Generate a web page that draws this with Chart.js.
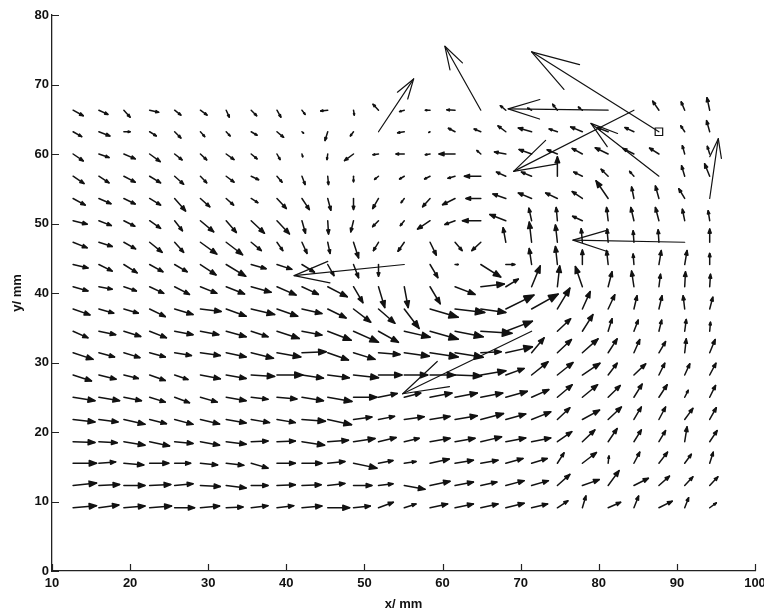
<!DOCTYPE html>
<html>
<head>
<meta charset="utf-8">
<script src="https://cdn.jsdelivr.net/npm/chart.js@4.4.1/dist/chart.umd.min.js"></script>
<style>
  html, body { margin: 0; padding: 0; background: #fff; }
  #wrap { width: 764px; height: 612px; }
</style>
</head>
<body>
<div id="wrap"><canvas id="quiver" width="764" height="612"></canvas></div>
<script>
// measurement grid (mm)
const gridX = [12.7, 16.0, 19.2, 22.5, 25.7, 29.0, 32.3, 35.5, 38.8, 42.0, 45.3, 48.6, 51.8,
               55.1, 58.4, 61.6, 64.9, 68.1, 71.4, 74.7, 77.9, 81.2, 84.5, 87.7, 91.0, 94.2];
const gridY = [9.1, 12.3, 15.5, 18.6, 21.8, 25.0, 28.2, 31.4, 34.5, 37.7,
               40.9, 44.1, 47.3, 50.4, 53.6, 56.8, 60.0, 63.2, 66.3];

// vector components in mm, one row per gridY (bottom row first)
const U = [
  [3.0,2.55,2.7,2.8,2.55,2.45,2.15,2.15,2.15,2.55,2.8,2.15,1.9,1.5,2.25,2.35,2.2,2.35,2.05,1.35,0.45,1.6,0.6,1.7,0.5,0.85],
  [3.0,2.65,2.7,2.7,2.35,2.55,2.55,2.15,2.35,2.45,2.2,2.35,1.85,2.65,2.55,2.35,2.05,2.35,2.15,1.6,2.15,1.4,1.85,1.35,1.05,1.05],
  [3.0,2.15,2.55,2.45,2.05,2.2,2.25,2.15,2.35,2.55,2.2,3.0,1.85,1.5,2.45,2.35,2.2,2.2,2.0,0.85,1.8,0.1,0.75,1.1,0.85,0.45],
  [2.8,2.35,2.7,2.55,2.35,2.45,2.55,2.15,2.35,2.9,2.65,2.75,2.25,1.9,2.55,2.55,2.65,2.55,2.45,1.85,1.6,1.15,0.95,0.85,0.3,0.95],
  [2.8,2.45,2.7,2.15,2.35,2.45,2.55,2.35,2.35,3.0,3.05,2.35,2.05,2.55,2.55,2.85,2.9,2.55,2.45,1.6,2.2,1.7,0.95,0.85,1.05,0.85],
  [2.8,2.65,2.25,2.0,1.9,2.15,2.55,2.15,2.55,2.75,3.1,3.0,2.4,2.1,2.8,2.85,2.8,2.75,2.2,1.9,1.95,1.55,1.05,1.05,0.45,0.75],
  [2.35,2.2,1.85,2.0,1.7,2.55,2.55,3.0,3.3,2.75,2.75,3.2,3.0,3.0,3.2,3.4,3.2,2.35,2.1,2.0,2.25,1.15,1.5,0.75,0.65,0.8],
  [2.55,2.0,2.05,2.0,2.15,2.55,2.55,2.85,3.05,3.1,2.65,2.75,2.75,3.2,3.6,3.6,2.6,3.4,1.6,1.8,2.0,1.15,0.75,0.85,0.2,0.7],
  [1.9,2.15,2.15,2.15,2.35,2.35,2.55,2.15,2.85,2.55,3.0,3.2,2.55,3.3,3.6,3.6,4.0,3.4,-16.5,1.7,1.35,0.5,0.55,0.35,0.2,0.1],
  [2.15,1.9,1.85,2.0,2.35,2.65,2.55,3.0,2.65,2.55,2.35,2.2,2.1,1.9,3.6,3.8,3.2,3.6,3.4,1.6,1.0,0.85,0.4,0.4,-0.2,0.4],
  [1.9,1.7,1.6,1.8,1.9,2.1,2.35,2.55,2.45,2.1,2.5,1.2,0.8,0.5,1.3,2.55,3.0,1.6,1.1,0.3,-0.9,0.5,-0.3,0.2,0.1,0.1],
  [1.9,1.7,1.7,1.7,1.6,2.0,2.5,1.9,1.9,1.6,0.8,0.65,0,-14.1,1.0,0.4,2.55,1.15,-0.3,-0.25,0,-0.2,-0.1,0.3,0.3,0],
  [1.8,1.7,1.5,1.6,1.15,2.1,2.1,1.3,0.75,0.65,0.3,0.65,-0.65,-0.8,0.8,0.9,-1.15,-0.35,-0.3,-0.25,-0.15,-0.15,-0.1,-0.1,-14.3,0],
  [1.8,1.6,1.4,1.4,1.0,1.7,1.3,1.7,1.6,0.45,0.1,-0.35,-0.75,-0.5,-1.6,-1.3,-2.35,-2.05,-0.35,-0.15,-1.25,-0.2,-0.4,-0.45,-0.3,-0.2],
  [1.55,1.55,1.45,1.4,1.4,1.2,0.95,0.85,1.2,0.95,0.4,0,-0.75,-0.4,-0.95,-1.6,-1.9,-1.65,-1.7,-1.5,-1.3,-1.55,-0.3,-0.45,-0.75,1.1],
  [1.4,1.3,1.45,1.4,1.15,0.8,1.0,0.95,0.65,0.4,0.1,0,-0.5,-0.6,-0.7,-0.9,-2.1,-1.2,-1.3,0,-1.1,-0.9,-0.55,-8.7,-0.4,-0.65],
  [1.3,1.3,1.45,1.35,0.95,0.8,1.0,0.75,0.4,0.1,-0.1,-1.15,-0.7,-1.05,-0.6,-2.05,-0.5,-1.45,-1.6,-1.3,-1.3,-1.65,-1.4,-1.2,-0.3,-0.3],
  [1.1,1.4,0.8,0.85,0.8,0.55,0.5,0.75,0.85,0.2,-0.35,-0.4,4.5,-0.85,-0.15,-0.85,-0.85,-1.0,-1.7,-1.05,-1.5,-1.4,-1.15,-16.3,-0.5,-0.4],
  [1.3,1.15,0.8,1.15,0.8,0.85,0.4,0.7,0.5,0.4,-0.9,0.1,-0.7,-0.6,-0.6,-1.05,-4.6,-0.7,-0.5,-0.6,-0.5,-12.8,-15.4,-0.8,-0.45,-0.35]
];
const V = [
  [0.3,0.4,0.25,0.25,0,0.25,0.1,0.3,0.3,0.25,0,0.25,0.8,0.55,0.55,0.55,0.55,0.65,0.55,1.0,1.7,0.8,1.7,0.95,1.45,0.7],
  [0.35,0.15,0,0.15,0.25,-0.15,-0.35,0,0.1,0.1,0.3,0,0.25,-0.55,0.6,0.5,0.5,0.7,0.7,1.6,0.85,2.15,1.05,1.35,1.25,1.25],
  [0,0.2,-0.25,0,0,-0.25,-0.3,-0.7,0,0,0.25,-0.7,0.4,0.25,0.6,0.45,0.45,0.7,0.7,1.5,1.55,1.05,1.6,1.6,1.3,1.6],
  [-0.1,-0.15,-0.5,-0.6,-0.25,-0.5,-0.35,0.1,0.1,-0.5,0.2,0.45,0.6,0.5,0.5,0.5,0.7,0.55,0.55,1.45,1.7,1.9,1.7,1.6,2.15,1.6],
  [-0.35,-0.35,-0.7,-0.6,-0.7,-0.65,-0.5,-0.45,-0.45,-0.25,-0.75,0.35,0.45,0.4,0.45,0.55,0.85,0.8,1.1,1.7,1.35,1.8,1.8,1.8,1.6,1.7],
  [-0.5,-0.5,-0.5,-0.7,-0.8,-0.7,-0.5,-0.3,-0.25,-0.5,-0.6,0,0.55,0.6,0.6,0.6,0.6,0.85,1.1,1.8,1.8,1.7,1.9,1.8,1.0,1.7],
  [-0.85,-0.6,-0.5,-0.8,-0.65,-0.55,-0.5,-0.2,0,-0.45,-0.4,-0.4,0,0,0,-0.15,0.6,0.95,1.9,1.8,1.7,1.7,1.6,1.7,1.6,1.7],
  [-0.95,-0.6,-0.7,-0.6,-0.4,-0.4,-0.6,-0.8,-0.6,0.15,-1.05,-0.95,-0.25,-0.5,-0.6,-0.65,0.15,0.85,2.15,1.9,2.0,2.0,1.9,1.6,2.0,1.9],
  [-0.95,-0.5,-0.75,-0.95,-0.5,-0.5,-0.8,-0.8,-1.05,-0.55,-1.3,-1.6,-1.6,-0.85,-1.15,-0.8,-0.3,1.45,-9.0,1.8,2.4,1.8,1.6,1.6,1.7,1.3],
  [-0.85,-0.6,-0.6,-1.1,-0.8,-0.35,-1.05,-0.8,-1.05,-0.65,-1.3,-1.9,-2.05,-2.8,-1.2,-0.5,-0.5,2.0,2.15,3.0,2.5,2.05,1.9,1.9,1.9,1.7],
  [-0.6,-0.35,-0.6,-0.95,-1.1,-0.95,-1.05,-0.8,-1.2,-1.1,-1.45,-2.3,-3.0,-3.0,-2.45,-1.1,0.4,1.1,3.0,3.0,2.9,2.15,2.25,1.8,2.15,1.8],
  [-0.5,-0.95,-1.2,-1.05,-1.05,-1.5,-1.7,-0.6,-0.7,-1.1,-1.6,-1.9,-1.7,-1.6,-1.9,0,-1.8,0,2.3,2.6,2.1,2.0,1.5,2.0,2.0,1.6],
  [-0.8,-0.6,-0.95,-1.45,-1.45,-1.7,-1.8,-1.2,-1.2,-1.6,-1.6,-2.25,-1.2,-1.3,-1.85,-1.2,-1.2,2.1,2.9,2.5,1.95,1.9,1.65,1.8,0.3,1.9],
  [-0.5,-0.7,-0.8,-1.1,-1.45,-1.6,-1.7,-1.8,-1.9,-1.8,-1.9,-1.6,-0.85,-0.7,-1.2,-0.55,0,0.9,1.8,1.9,0.65,1.9,1.9,1.9,1.65,1.45],
  [-0.95,-0.75,-0.8,-0.95,-1.8,-1.2,-0.95,-0.6,-1.45,-1.6,-1.7,-1.6,-1.45,-0.6,-1.2,-0.9,0,0.65,0.8,0.8,1.0,2.55,1.65,1.8,1.4,8.6],
  [-1.05,-0.95,-0.85,-0.95,-1.15,-0.95,-0.85,-0.5,-0.85,-1.2,-1.2,-0.8,-0.45,-0.4,-0.4,-0.3,0,0.6,0.6,2.8,0.6,1.0,0.7,7.6,1.5,1.8],
  [-1.0,-0.5,-0.7,-1.1,-0.85,-0.85,-0.8,-0.7,-0.8,-0.4,-0.8,-0.95,-0.1,0,-0.1,0,0.5,0.3,0.65,0.6,0.8,0.9,0.8,0.85,1.2,1.1],
  [-0.7,-0.6,0,-0.6,-0.9,-0.7,-0.6,-0.5,-0.8,-0.2,-1.25,-0.6,7.6,-0.15,-0.1,0.5,0.4,0.85,0.55,0.4,0.7,0.6,0.6,11.5,0.85,1.6],
  [-0.8,-0.6,-1.0,-0.3,-0.7,-0.7,-1.0,-0.8,-1.0,-0.6,-0.1,-0.7,0.85,-0.2,0,0.05,9.2,0.65,0.3,0.85,0.45,0.2,-8.8,1.3,1.2,1.8]
];

// square marker at one grid point
const markX = [87.7];
const markY = [63.2];

const xTicks = [10, 20, 30, 40, 50, 60, 70, 80, 90, 100];
const yTicks = [0, 10, 20, 30, 40, 50, 60, 70, 80];

const INK = '#121212';
const labelFont = { family: "'Liberation Sans', Arial, Helvetica, sans-serif", size: 13, weight: 'bold' };

// tails of all vectors, used as the chart's points
const tails = [];
gridY.forEach(yv => gridX.forEach(xv => tails.push({ x: xv, y: yv })));

function drawArrow(ctx, x0, y0, x1, y1) {
    const dx = x1 - x0, dy = y1 - y0;
    const len = Math.hypot(dx, dy);
    if (len < 1) {
        ctx.fillRect(x0 - 1, y0 - 1, 2, 2);
        return;
    }
    const small = len < 45;
    const ang = Math.atan2(dy, dx);
    const head = 0.33 * len;
    const spread = small ? 0.36 : 0.3;
    const ax = x1 - head * Math.cos(ang - spread), ay = y1 - head * Math.sin(ang - spread);
    const bx = x1 - head * Math.cos(ang + spread), by = y1 - head * Math.sin(ang + spread);

    ctx.beginPath();
    ctx.moveTo(x0, y0);
    ctx.lineTo(x1, y1);
    ctx.stroke();

    ctx.beginPath();
    if (small) {
        // small heads come out as solid wedges
        ctx.moveTo(x1, y1);
        ctx.lineTo(ax, ay);
        ctx.lineTo(bx, by);
        ctx.closePath();
        ctx.fill();
        ctx.stroke();
    } else {
        ctx.moveTo(ax, ay);
        ctx.lineTo(x1, y1);
        ctx.lineTo(bx, by);
        ctx.stroke();
    }
}

const quiverPlugin = {
    id: 'quiver',
    afterDatasetsDraw(chart) {
        const { ctx, chartArea } = chart;
        const xs = chart.scales.x, ys = chart.scales.y;
        ctx.save();
        ctx.strokeStyle = INK;
        ctx.fillStyle = INK;
        ctx.lineCap = 'round';
        ctx.lineJoin = 'round';

        for (let r = 0; r < gridY.length; r++) {
            for (let c = 0; c < gridX.length; c++) {
                const u = U[r][c], v = V[r][c];
                if (u === undefined || v === undefined) continue;
                const x0 = xs.getPixelForValue(gridX[c]);
                const y0 = ys.getPixelForValue(gridY[r]);
                const x1 = xs.getPixelForValue(gridX[c] + u);
                const y1 = ys.getPixelForValue(gridY[r] + v);
                ctx.lineWidth = Math.hypot(x1 - x0, y1 - y0) < 45 ? 1.5 : 1.2;
                drawArrow(ctx, x0, y0, x1, y1);
            }
        }

        // inward tick marks
        ctx.strokeStyle = '#222';
        ctx.lineWidth = 1.2;
        ctx.lineCap = 'butt';
        ctx.beginPath();
        xs.ticks.forEach(t => {
            const px = Math.round(xs.getPixelForValue(t.value)) + 0.5;
            ctx.moveTo(px, chartArea.bottom);
            ctx.lineTo(px, chartArea.bottom - 7);
        });
        ys.ticks.forEach(t => {
            const py = Math.round(ys.getPixelForValue(t.value)) + 0.5;
            ctx.moveTo(chartArea.left, py);
            ctx.lineTo(chartArea.left + 7, py);
        });
        ctx.stroke();
        ctx.restore();
    }
};

new Chart(document.getElementById('quiver'), {
    type: 'scatter',
    data: {
        datasets: [
            {
                label: 'grid',
                data: tails,
                pointRadius: 0,
                pointHoverRadius: 0
            },
            {
                label: 'marker',
                data: markX.map((xv, i) => ({ x: xv, y: markY[i] })),
                pointStyle: 'rect',
                pointRadius: 5.3,
                borderColor: INK,
                borderWidth: 1.2,
                backgroundColor: 'rgba(0,0,0,0)'
            }
        ]
    },
    options: {
        responsive: false,
        animation: false,
        devicePixelRatio: 1,
        layout: { padding: { top: 15, right: 9, bottom: 0, left: 0 } },
        plugins: {
            legend: { display: false },
            tooltip: { enabled: false }
        },
        scales: {
            x: {
                type: 'linear',
                min: 10,
                max: 100,
                afterBuildTicks: s => { s.ticks = xTicks.map(v => ({ value: v })); },
                grid: { display: false, drawTicks: false },
                border: { display: true, color: '#222', width: 1.3 },
                ticks: { color: '#111', font: labelFont, padding: 5, maxRotation: 0, autoSkip: false },
                title: { display: true, text: 'x/ mm', color: '#111', font: labelFont, padding: { top: 0, bottom: 0 } },
                afterFit: s => { s.height = 41; s.paddingLeft = 0; s.paddingRight = 0; }
            },
            y: {
                type: 'linear',
                min: 0,
                max: 80,
                afterBuildTicks: s => { s.ticks = yTicks.map(v => ({ value: v })); },
                grid: { display: false, drawTicks: false },
                border: { display: true, color: '#222', width: 1.3 },
                ticks: { color: '#111', font: labelFont, padding: 3, autoSkip: false },
                title: { display: true, text: 'y/ mm', color: '#111', font: labelFont, padding: { top: 10, bottom: 0 } },
                afterFit: s => { s.width = 52; s.paddingTop = 0; s.paddingBottom = 0; }
            }
        }
    },
    plugins: [quiverPlugin]
});
</script>
</body>
</html>
